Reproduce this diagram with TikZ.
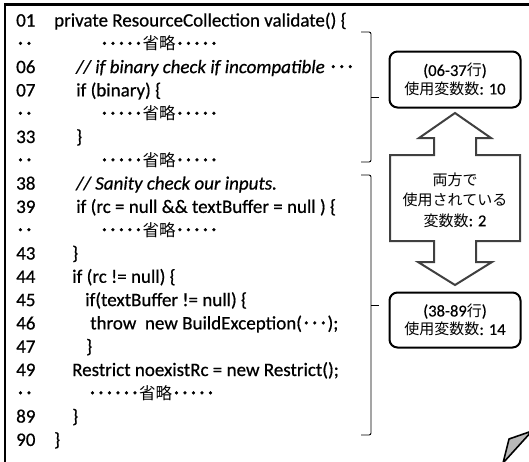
\documentclass[tikz,border=0pt]{standalone}
\usepackage{fontspec}
\setmainfont{Carlito}[FakeBold=0.6]
\newfontfamily\jpf{Noto Sans CJK JP}
\newfontfamily\jpdot{Noto Sans CJK JP}[FakeBold=2.5]
\newcommand\JC[1]{{\jpf\fontsize{16.5}{19}\selectfont #1}}
\newcommand\JB[1]{{\jpf\fontsize{15}{18}\selectfont #1}}
\newcommand\JD[1]{{\jpdot\fontsize{17}{19}\selectfont #1}}
\newcommand\skipped{\JD{･････}\JC{省略}\JD{･････}}
\tikzset{
  code/.style={anchor=base west, inner sep=0pt, font=\fontsize{19}{19}\selectfont},
  brk/.style={line width=0.9pt, rounded corners=2pt},
  infobox/.style={draw, line width=2pt, rounded corners=8pt, minimum width=131pt,
    minimum height=56pt, align=center, inner sep=0pt, font=\fontsize{16.5}{18.5}\selectfont},
  bigarrow/.style={draw=black!75, line width=2pt, fill=white, line join=miter},
}
\begin{document}
\begin{tikzpicture}[x=1pt, y=-1pt]
\useasboundingbox (0,0) rectangle (529,461);
% frame
\draw[line width=2.5pt] (5,470) -- (5,4.5) -- (540,4.5);
% line numbers
\node[code] (n0)  at (16, 26.5) {01};
\node[code] (n1)  at (16, 49.8) {\JD{･･}};
\node[code] (n2)  at (16, 73.1) {06};
\node[code] (n3)  at (16, 96.4) {07};
\node[code] (n4)  at (16,119.7) {\JD{･･}};
\node[code] (n5)  at (16,143.0) {33};
\node[code] (n6)  at (16,166.3) {\JD{･･}};
\node[code] (n7)  at (16,189.6) {38};
\node[code] (n8)  at (16,212.9) {39};
\node[code] (n9)  at (16,236.2) {\JD{･･}};
\node[code] (n10) at (16,259.5) {43};
\node[code] (n11) at (16,282.8) {44};
\node[code] (n12) at (16,306.1) {45};
\node[code] (n13) at (16,329.4) {46};
\node[code] (n14) at (16,352.7) {47};
\node[code] (n15) at (16,376.0) {49};
\node[code] (n16) at (16,399.3) {\JD{･･}};
\node[code] (n17) at (16,422.6) {89};
\node[code] (n18) at (16,445.9) {90};
% code
\node[code] (c0)  at (54, 26.5) {private ResourceCollection validate() \{};
\node[code] (c1)  at (100, 49.8) {\skipped};
\node[code] (c2)  at (76, 73.1) {\textit{// if binary check if incompatible} \JD{･･･}};
\node[code] (c3)  at (76, 96.4) {if (binary) \{};
\node[code] (c4)  at (100,119.7) {\skipped};
\node[code] (c5)  at (76,143.0) {\}};
\node[code] (c6)  at (100,166.3) {\skipped};
\node[code] (c7)  at (76,189.6) {\textit{// Sanity check our inputs.}};
\node[code] (c8)  at (76,212.9) {if (rc = null \&\& textBuffer = null ) \{};
\node[code] (c9)  at (100,236.2) {\skipped};
\node[code] (c10) at (72,259.5) {\}};
\node[code] (c11) at (72,282.8) {if (rc != null) \{};
\node[code] (c12) at (85,306.1) {if(textBuffer != null) \{};
\node[code] (c13) at (90,329.4) {throw\ \ new BuildException(\JD{･･･});};
\node[code] (c14) at (86,352.7) {\}};
\node[code] (c15) at (72,376.0) {Restrict noexistRc = new Restrict();};
\node[code] (c16) at (88,399.3) {\JD{･}\skipped};
\node[code] (c17) at (72,422.6) {\}};
\node[code] (c18) at (54,445.9) {\}};
% brackets
\draw[brk] (361,32) -- (371,32) -- (371,97) -- (371,162) -- (361,162);
\draw[line width=0.9pt] (371,97) -- (379,97);
\draw[brk] (361,175) -- (371,175) -- (371,305) -- (371,435) -- (361,435);
\draw[line width=0.9pt] (371,305) -- (379,305);
% double arrow
\draw[bigarrow] (455,113) -- (491,138) -- (476,138) -- (476,155) -- (520,155)
  -- (520,241) -- (476,241) -- (476,262) -- (492,262) -- (455,285) -- (418,262)
  -- (434,262) -- (434,241) -- (390,241) -- (390,155) -- (434,155) -- (434,138)
  -- (419,138) -- cycle;
\node[align=center, inner sep=0pt, font=\fontsize{16.5}{20.5}\selectfont] (mid) at (455,200)
  {\JB{両方で}\\\JB{使用されている}\\\JB{変数数}: 2};
% boxes
\node[infobox] (b1) at (455,79.5) {(06-37\JB{行})\\\JB{使用変数数}: 10};
\node[infobox, minimum height=55pt] (b2) at (455,320) {(38-89\JB{行})\\\JB{使用変数数}: 14};
% corner shape
\draw[line width=1.6pt, fill=gray!55, line join=miter] (503,463) -- (509,439) -- (532,431) -- cycle;
\end{tikzpicture}
\end{document}
